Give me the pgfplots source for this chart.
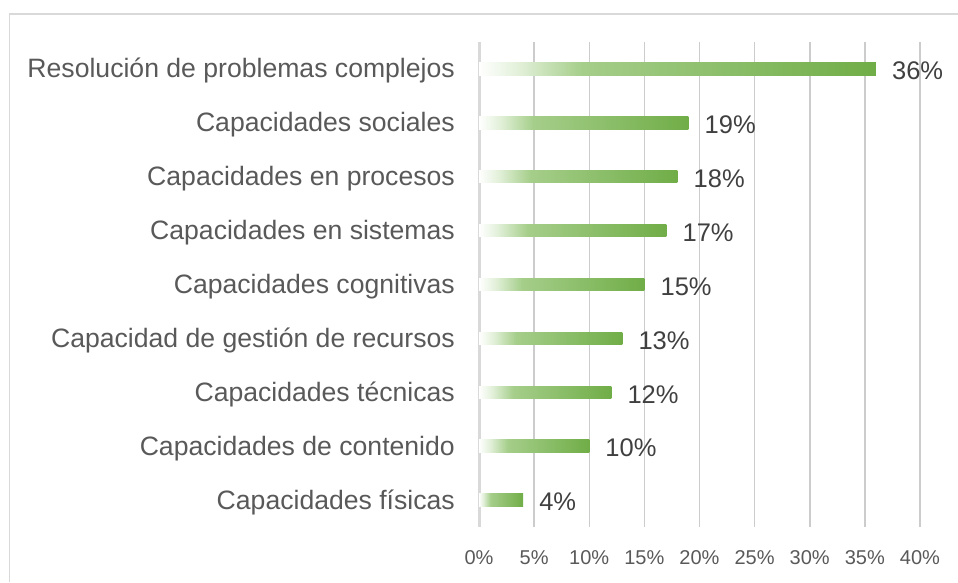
\documentclass[border=0pt]{standalone}
\usepackage{fontspec}
\setmainfont{Liberation Sans}
\usepackage{pgfplots}
\pgfplotsset{compat=1.18}
\definecolor{dg}{RGB}{112,173,71}
\definecolor{lg}{RGB}{165,206,138}
\definecolor{vlg}{RGB}{226,240,217}
\definecolor{gridc}{RGB}{204,204,204}
\definecolor{zeroc}{RGB}{217,217,217}
\definecolor{labc}{RGB}{89,89,89}
\definecolor{valc}{RGB}{64,64,64}
\pgfdeclarehorizontalshading{barshade}{100bp}{color(0bp)=(white); color(25bp)=(white); color(30bp)=(vlg); color(38bp)=(lg); color(75bp)=(dg); color(100bp)=(dg)}
\begin{document}
\begin{tikzpicture}[x=1pt,y=1pt]
\path[use as bounding box] (0,0) rectangle (958,582);
\draw[zeroc, line width=1.2pt] (9.5,0) -- (9.5,568) -- (958,568);
\begin{axis}[
  at={(479pt,55pt)}, anchor=south west,
  scale only axis, width=441pt, height=485pt,
  xmin=0, xmax=40, ymin=-0.5, ymax=8.5,
  xbar, bar width=12.5pt, bar shift=0pt,
  /pgf/number format/assume math mode=true,
  axis line style={draw=none},
  major tick length=0pt,
  xmajorgrids, major grid style={gridc, line width=1.5pt},
  xtick={0,5,10,15,20,25,30,35,40},
  xticklabels={0\%,5\%,10\%,15\%,20\%,25\%,30\%,35\%,40\%},
  xticklabel style={font=\fontsize{20}{24}\selectfont, text=labc, anchor=north, inner sep=0pt, yshift=-23pt},
  ytick={0,1,2,3,4,5,6,7,8},
  yticklabels={Capacidades físicas, Capacidades de contenido, Capacidades técnicas, Capacidad de gestión de recursos, Capacidades cognitivas, Capacidades en sistemas, Capacidades en procesos, Capacidades sociales, Resolución de problemas complejos},
  yticklabel style={font=\fontsize{26.6}{30}\selectfont, text=labc, anchor=east, inner sep=0pt, xshift=-24pt, yshift=-2pt},
  nodes near coords={\pgfmathprintnumber{\pgfplotspointmeta}\%},
  nodes near coords style={font=\fontsize{25.5}{30}\selectfont, text=valc, anchor=west, inner sep=0pt, xshift=16pt, yshift=-2pt},
  point meta=x,
  clip=false,
  every axis plot/.append style={draw=none, shading=barshade},
]
\draw[zeroc, line width=3pt] (axis cs:0,-0.5) -- (axis cs:0,8.5);
\addplot coordinates {(4,0)};
\addplot coordinates {(10,1)};
\addplot coordinates {(12,2)};
\addplot coordinates {(13,3)};
\addplot coordinates {(15,4)};
\addplot coordinates {(17,5)};
\addplot coordinates {(18,6)};
\addplot coordinates {(19,7)};
\addplot coordinates {(36,8)};
\end{axis}
\end{tikzpicture}
\end{document}
